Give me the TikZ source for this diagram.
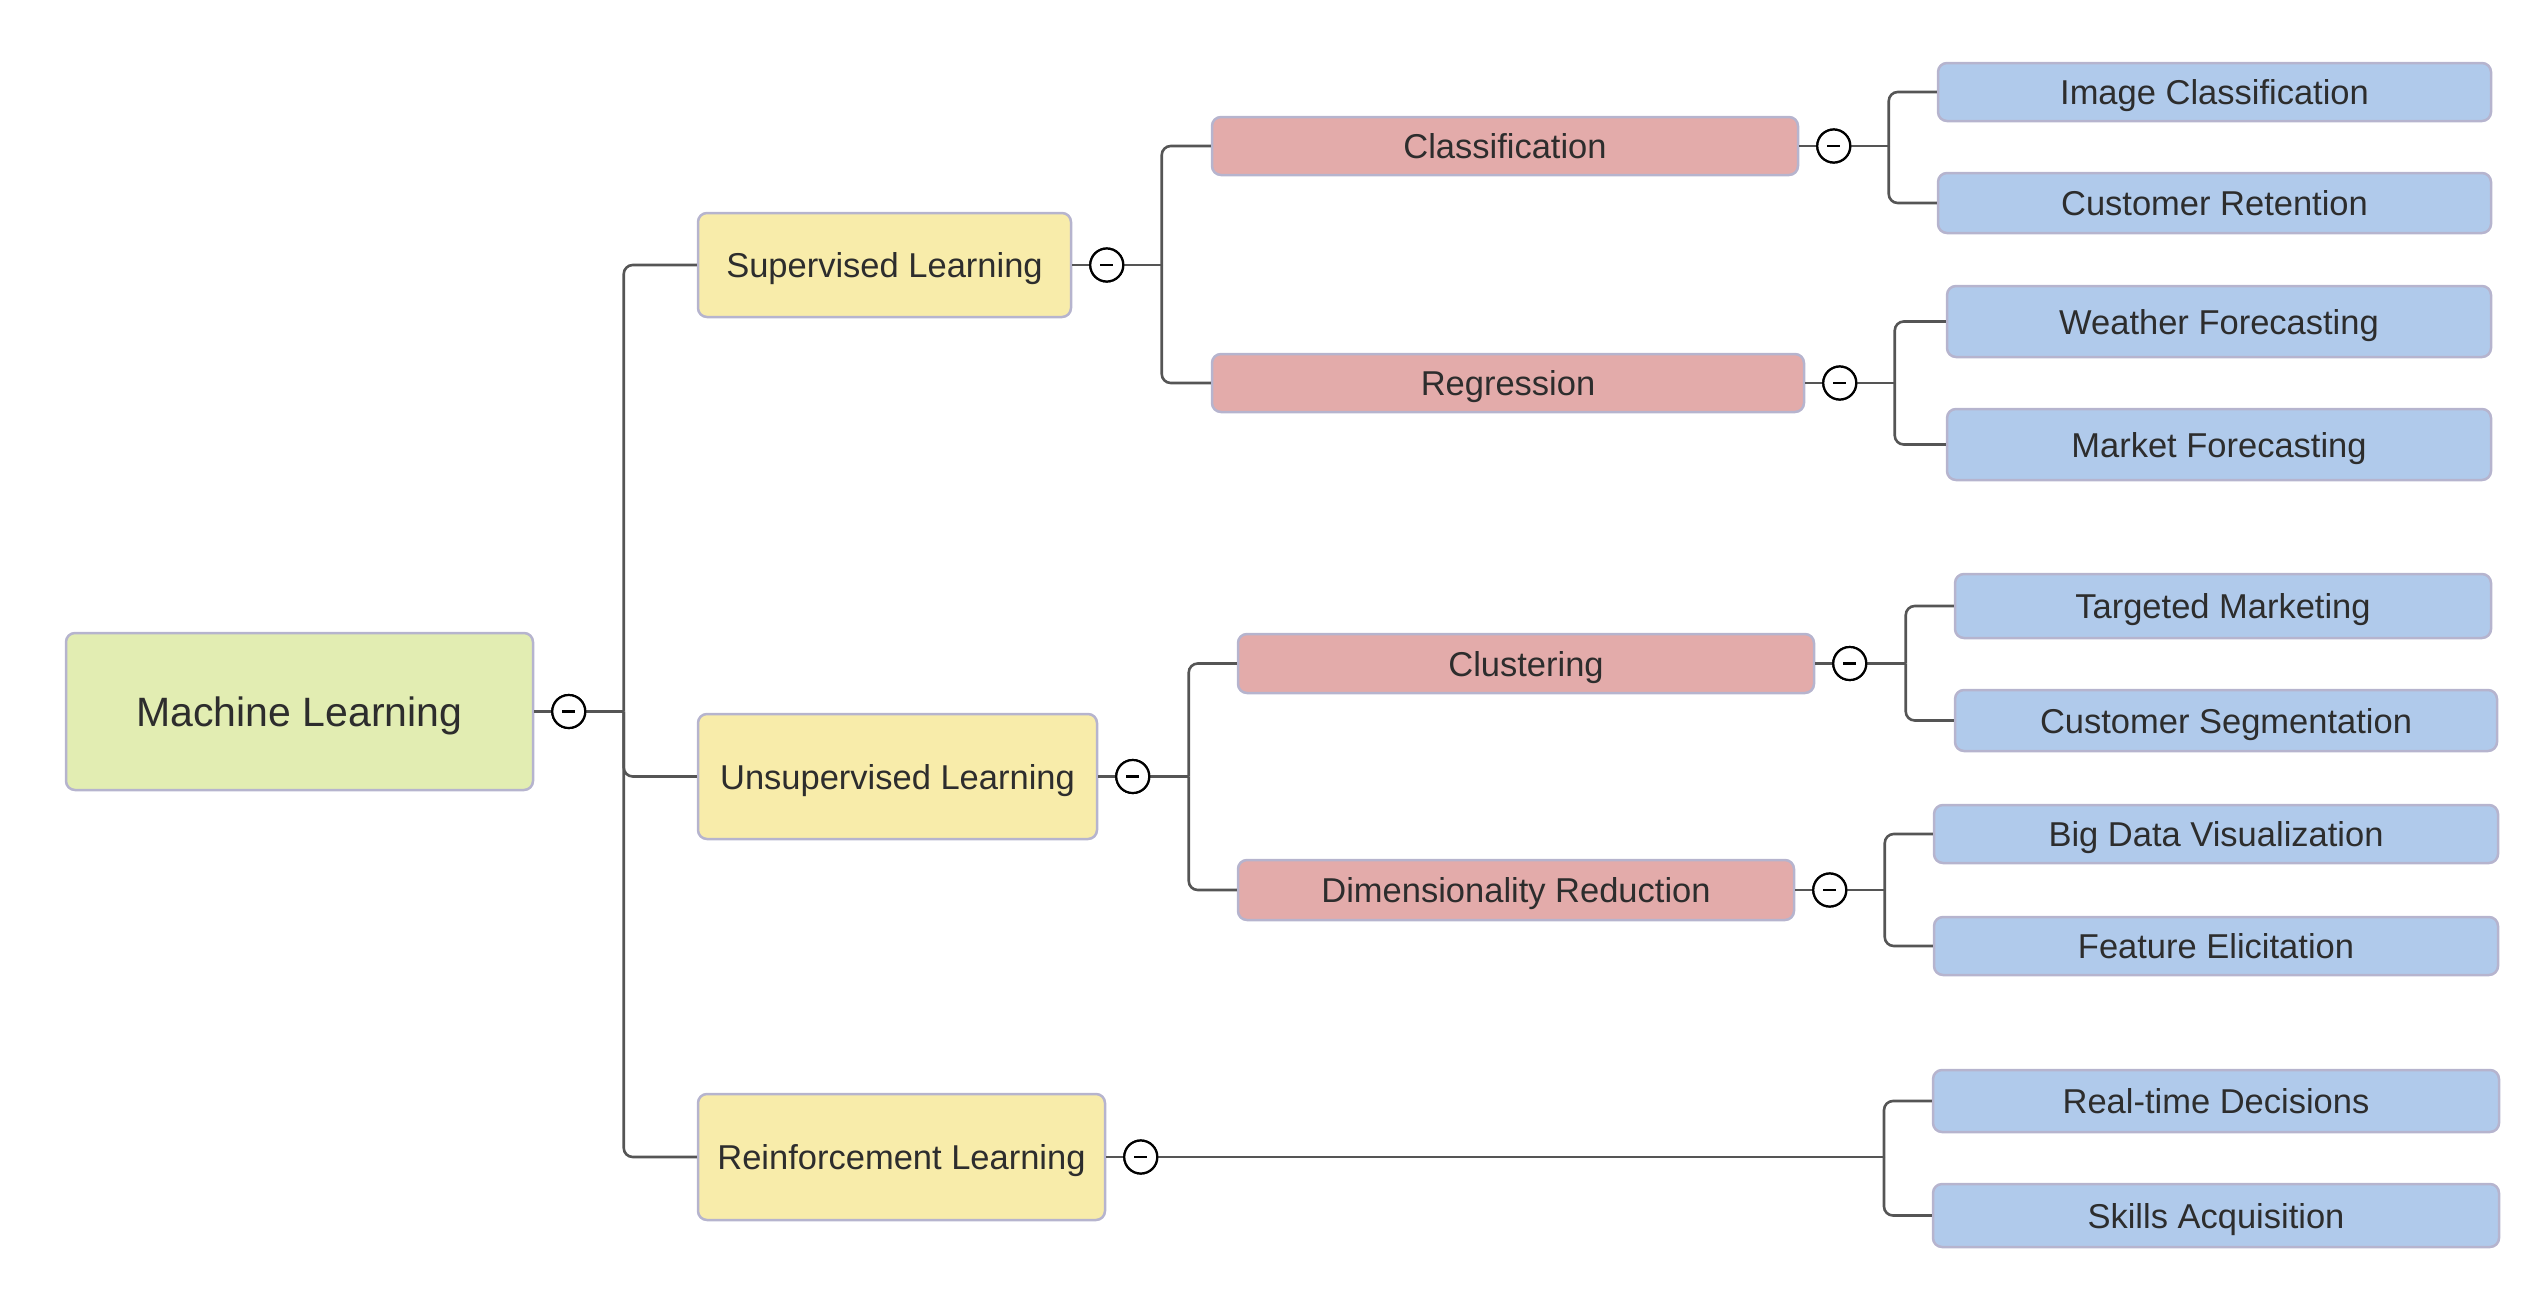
\documentclass[tikz,border=0pt]{standalone}
\usepackage{fontspec}
\setmainfont{Liberation Sans}
\definecolor{mlfill}{RGB}{226,237,178}
\definecolor{l1fill}{RGB}{248,236,170}
\definecolor{l2fill}{RGB}{227,171,170}
\definecolor{l3fill}{RGB}{176,202,235}
\definecolor{bord}{RGB}{182,180,206}
\definecolor{txt}{RGB}{45,45,45}
\definecolor{conncol}{RGB}{85,85,85}
\tikzset{
  box/.style={draw=bord, line width=2.5pt, rounded corners=9pt, inner sep=0pt, text=txt,
    font=\fontsize{34.5}{40}\selectfont, anchor=center, text depth=0pt},
  mlbox/.style={box, fill=mlfill, font=\fontsize{41}{48}\selectfont},
  lvone/.style={box, fill=l1fill},
  lvtwo/.style={box, fill=l2fill},
  lvthree/.style={box, fill=l3fill},
  conn/.style={draw=conncol, line width=2.6pt, rounded corners=9pt},
  toggle/.style={circle, draw=black, fill=white, line width=2.2pt, minimum size=33pt, inner sep=0pt,
    path picture={\draw[line width=2.6pt, black] ([xshift=-6.5pt]path picture bounding box.center) -- ([xshift=6.5pt]path picture bounding box.center);}},
}
\begin{document}
\begin{tikzpicture}[x=1pt,y=-1pt]
\useasboundingbox (0,0) rectangle (2544,1310);
% nodes
\node[mlbox, minimum width=467pt, minimum height=157pt] (ml) at (299.5,711.5) {Machine Learning};
\node[lvone, minimum width=373pt, minimum height=104pt] (sl) at (884.5,265) {Supervised Learning};
\node[lvone, minimum width=399pt, minimum height=125pt] (ul) at (897.5,776.5) {Unsupervised Learning};
\node[lvone, minimum width=407pt, minimum height=126pt] (rl) at (901.5,1157) {Reinforcement Learning};
\node[lvtwo, minimum width=586pt, minimum height=58pt] (cls) at (1505,146) {Classification};
\node[lvtwo, minimum width=592pt, minimum height=58pt] (reg) at (1508,383) {Regression};
\node[lvtwo, minimum width=576pt, minimum height=59pt] (clu) at (1526,663.5) {Clustering};
\node[lvtwo, minimum width=556pt, minimum height=60pt] (dr) at (1516,890) {Dimensionality Reduction};
\node[lvthree, minimum width=553pt, minimum height=58pt] (ic) at (2214.5,92) {Image Classification};
\node[lvthree, minimum width=553pt, minimum height=60pt] (cr) at (2214.5,203) {Customer Retention};
\node[lvthree, minimum width=544pt, minimum height=71pt] (wf) at (2219,321.5) {Weather Forecasting};
\node[lvthree, minimum width=544pt, minimum height=71pt] (mf) at (2219,444.5) {Market Forecasting};
\node[lvthree, minimum width=536pt, minimum height=64pt] (tm) at (2223,606) {Targeted Marketing};
\node[lvthree, minimum width=542pt, minimum height=61pt] (cs) at (2226,720.5) {Customer Segmentation};
\node[lvthree, minimum width=564pt, minimum height=58pt] (bd) at (2216,834) {Big Data Visualization};
\node[lvthree, minimum width=564pt, minimum height=58pt] (fe) at (2216,946) {Feature Elicitation};
\node[lvthree, minimum width=566pt, minimum height=62pt] (rt) at (2216,1101) {Real-time Decisions};
\node[lvthree, minimum width=566pt, minimum height=63pt] (sa) at (2216,1215.5) {Skills Acquisition};
% toggles
\node[toggle] (tml) at ([xshift=34.5pt]ml.east) {};
\node[toggle] (tsl) at ([xshift=34.5pt]sl.east) {};
\node[toggle] (tul) at ([xshift=34.5pt]ul.east) {};
\node[toggle] (trl) at ([xshift=34.5pt]rl.east) {};
\node[toggle] (tcls) at ([xshift=34.5pt]cls.east) {};
\node[toggle] (treg) at ([xshift=34.5pt]reg.east) {};
\node[toggle] (tclu) at ([xshift=34.5pt]clu.east) {};
\node[toggle] (tdr) at ([xshift=34.5pt]dr.east) {};
% junctions
\coordinate (jml) at ([xshift=55pt]tml.center);
\coordinate (jsl) at ([xshift=55pt]tsl.center);
\coordinate (jul) at ([xshift=56pt]tul.center);
\coordinate (jrl) at (1884,1157);
\coordinate (jcls) at ([xshift=55pt]tcls.center);
\coordinate (jreg) at ([xshift=55pt]treg.center);
\coordinate (jclu) at ([xshift=56pt]tclu.center);
\coordinate (jdr) at ([xshift=55pt]tdr.center);
% connectors
\foreach \p in {ml,sl,ul,rl,cls,reg,clu,dr}{
  \draw[conn] (\p.east) -- (t\p.west);
  \draw[conn] (t\p.east) -- (j\p);
}
\draw[conn] (jml) |- (sl.west);
\draw[conn] (jml) |- (rl.west);
\draw[conn] (jml) |- (ul.west);
\draw[conn] (jsl) |- (cls.west);
\draw[conn] (jsl) |- (reg.west);
\draw[conn] (jul) |- (clu.west);
\draw[conn] (jul) |- (dr.west);
\draw[conn] (jrl) |- (rt.west);
\draw[conn] (jrl) |- (sa.west);
\draw[conn] (jcls) |- (ic.west);
\draw[conn] (jcls) |- (cr.west);
\draw[conn] (jreg) |- (wf.west);
\draw[conn] (jreg) |- (mf.west);
\draw[conn] (jclu) |- (tm.west);
\draw[conn] (jclu) |- (cs.west);
\draw[conn] (jdr) |- (bd.west);
\draw[conn] (jdr) |- (fe.west);
% redraw toggles on top
\foreach \p in {ml,sl,ul,rl,cls,reg,clu,dr}{
  \node[toggle] at (t\p) {};
}
\end{tikzpicture}
\end{document}
